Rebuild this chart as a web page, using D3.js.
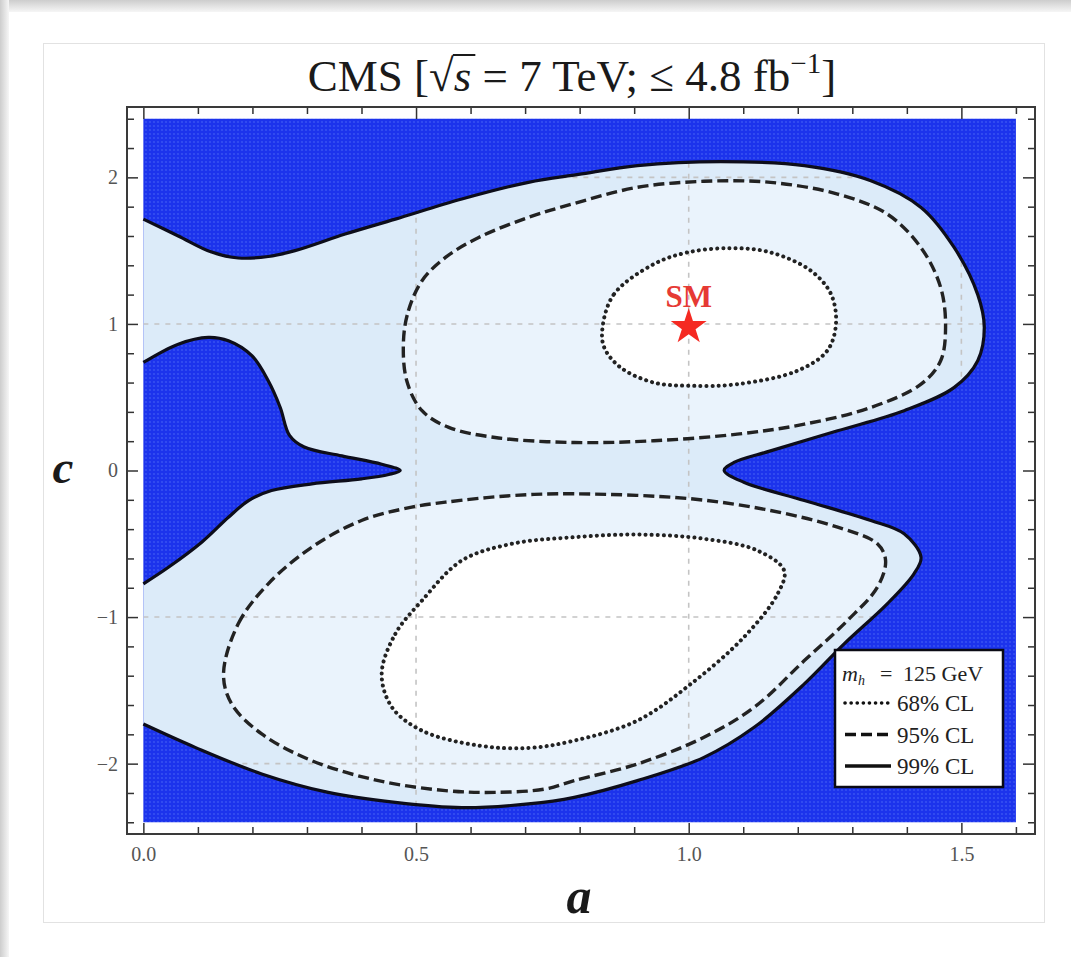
<!DOCTYPE html>
<html>
<head>
<meta charset="utf-8">
<script src="https://cdn.jsdelivr.net/npm/d3@7"></script>
<style>
  body { margin: 0; background: #fff; }
  text { font-family: "Liberation Serif", "Times New Roman", serif; }
</style>
</head>
<body>
<div id="wrapper"></div>
<script>
// Contours in the (a, c) plane
const outer99 = [
  [0, 1.715], [0.064, 1.60], [0.125, 1.49], [0.174, 1.45], [0.229, 1.46], [0.278, 1.50],
  [0.370, 1.613], [0.462, 1.715], [0.584, 1.852], [0.706, 1.966], [0.798, 2.02], [0.906, 2.08],
  [1.059, 2.107], [1.212, 2.08], [1.334, 1.977], [1.426, 1.795], [1.487, 1.52], [1.530, 1.20],
  [1.542, 0.976], [1.530, 0.749], [1.487, 0.567], [1.395, 0.408], [1.273, 0.271], [1.150, 0.134],
  [1.083, 0.055], [1.065, 0.0], [1.101, -0.08], [1.212, -0.205], [1.334, -0.341], [1.395, -0.432],
  [1.426, -0.592], [1.413, -0.705], [1.364, -0.91], [1.285, -1.183], [1.212, -1.456], [1.120, -1.752],
  [1.028, -1.957], [0.906, -2.116], [0.790, -2.23], [0.706, -2.275], [0.584, -2.30], [0.462, -2.264],
  [0.339, -2.196], [0.217, -2.07], [0.095, -1.889], [0, -1.73]
]
const tongue99 = [
  [0, -0.773], [0.046, -0.66], [0.107, -0.489], [0.156, -0.319], [0.193, -0.205], [0.235, -0.137],
  [0.309, -0.091], [0.40, -0.057], [0.450, -0.027], [0.471, 0.0], [0.437, 0.043], [0.364, 0.10],
  [0.295, 0.16], [0.268, 0.24], [0.251, 0.43], [0.229, 0.612], [0.199, 0.783], [0.156, 0.885],
  [0.119, 0.908], [0.064, 0.862], [0, 0.737]
]
const upper95 = [
  [0.477, 0.885], [0.486, 1.09], [0.511, 1.295], [0.554, 1.454], [0.615, 1.59], [0.706, 1.727],
  [0.790, 1.822], [0.906, 1.932], [1.028, 1.973], [1.150, 1.966], [1.273, 1.886], [1.364, 1.75],
  [1.426, 1.52], [1.462, 1.249], [1.471, 0.976], [1.462, 0.749], [1.426, 0.589], [1.334, 0.43],
  [1.212, 0.316], [1.089, 0.248], [0.936, 0.203], [0.790, 0.191], [0.645, 0.225], [0.560, 0.294],
  [0.511, 0.408], [0.483, 0.612]
]
const lower95 = [
  [0.147, -1.388], [0.174, -1.046], [0.229, -0.773], [0.309, -0.523], [0.40, -0.341], [0.492, -0.25],
  [0.554, -0.216], [0.676, -0.171], [0.790, -0.159], [1.004, -0.193], [1.150, -0.273], [1.273, -0.387],
  [1.346, -0.50], [1.361, -0.614], [1.346, -0.796], [1.291, -1.024], [1.212, -1.297], [1.120, -1.616],
  [1.028, -1.82], [0.906, -2.002], [0.790, -2.116], [0.737, -2.173], [0.645, -2.196], [0.554, -2.184],
  [0.431, -2.116], [0.309, -1.98], [0.217, -1.797], [0.162, -1.593]
]
const upper68 = [
  [0.842, 0.976], [0.863, 1.203], [0.936, 1.408], [0.998, 1.488], [1.077, 1.517], [1.150, 1.488],
  [1.224, 1.363], [1.261, 1.203], [1.270, 0.999], [1.254, 0.817], [1.199, 0.68], [1.089, 0.589],
  [1.004, 0.578], [0.936, 0.60], [0.875, 0.703], [0.845, 0.84]
]
const lower68 = [
  [0.437, -1.388], [0.462, -1.115], [0.511, -0.887], [0.584, -0.614], [0.676, -0.50], [0.790, -0.455],
  [0.906, -0.437], [1.028, -0.466], [1.126, -0.546], [1.175, -0.683], [1.163, -0.842], [1.101, -1.138],
  [1.004, -1.456], [0.906, -1.706], [0.790, -1.843], [0.706, -1.893], [0.615, -1.877], [0.511, -1.775],
  [0.456, -1.616]
]
const smPoint = [1, 1]

const regionA = [0, 1.6]
const regionC = [-2.4, 2.4]

const xMajor = [0, 0.5, 1.0, 1.5]
const xMinor = [0.1, 0.2, 0.3, 0.4, 0.6, 0.7, 0.8, 0.9, 1.1, 1.2, 1.3, 1.4, 1.6]
const yMajor = [-2, -1, 0, 1, 2]
const yMinor = [-2.4, -2.2, -1.8, -1.6, -1.4, -1.2, -0.8, -0.6, -0.4, -0.2,
  0.2, 0.4, 0.6, 0.8, 1.2, 1.4, 1.6, 1.8, 2.2, 2.4]
const xGrid = [0.5, 1.0, 1.5]
const yGrid = [-2, -1, 1, 2]

const legendItems = [
  { label: "68% CL", dash: "0.1,6" },
  { label: "95% CL", dash: "11,5" },
  { label: "99% CL", dash: null },
]

const dimensions = {
  width: 1071,
  height: 957,
  frame: { left: 127, right: 1035, top: 107, bottom: 834 },
}

const svg = d3.select("#wrapper")
  .append("svg")
  .attr("width", dimensions.width)
  .attr("height", dimensions.height)
  .style("display", "block")

const defs = svg.append("defs")

// page background: grey edge + card
const edge = defs.append("linearGradient").attr("id", "edgeTop").attr("x1", 0).attr("y1", 0).attr("x2", 0).attr("y2", 1)
edge.append("stop").attr("offset", 0).attr("stop-color", "#cdcdcd")
edge.append("stop").attr("offset", 1).attr("stop-color", "#f6f6f6")
const edgeL = defs.append("linearGradient").attr("id", "edgeLeft").attr("x1", 0).attr("y1", 0).attr("x2", 1).attr("y2", 0)
edgeL.append("stop").attr("offset", 0).attr("stop-color", "#cdcdcd")
edgeL.append("stop").attr("offset", 1).attr("stop-color", "#f6f6f6")

svg.append("rect").attr("width", dimensions.width).attr("height", 12).attr("fill", "url(#edgeTop)")
svg.append("rect").attr("width", 9).attr("height", dimensions.height).attr("fill", "url(#edgeLeft)")
svg.append("rect")
  .attr("x", 43.5).attr("y", 43.5).attr("width", 1001).attr("height", 879)
  .attr("fill", "#fff").attr("stroke", "#e2e2e2")

const pattern = defs.append("pattern")
  .attr("id", "blueDots")
  .attr("width", 4).attr("height", 4)
  .attr("patternUnits", "userSpaceOnUse")
pattern.append("rect").attr("width", 4).attr("height", 4).attr("fill", "#1c33ec")
pattern.append("circle").attr("cx", 2).attr("cy", 2).attr("r", 1.1).attr("fill", "#3650f2")

// scales
const xScale = d3.scaleLinear()
  .domain([-0.03, 1.635])
  .range([dimensions.frame.left, dimensions.frame.right])
const yScale = d3.scaleLinear()
  .domain([-2.48, 2.48])
  .range([dimensions.frame.bottom, dimensions.frame.top])

const openLine = d3.line()
  .x(d => xScale(d[0]))
  .y(d => yScale(d[1]))
  .curve(d3.curveCatmullRom.alpha(0.5))
const closedLine = d3.line()
  .x(d => xScale(d[0]))
  .y(d => yScale(d[1]))
  .curve(d3.curveCatmullRomClosed.alpha(0.5))

const outerPath = openLine(outer99)
const tonguePath = openLine(tongue99)
const region99 = outerPath + "L" + tonguePath.slice(1) + "Z"

defs.append("clipPath").attr("id", "clip99")
  .append("path").attr("d", region99)

// excluded region
svg.append("rect")
  .attr("x", xScale(regionA[0]))
  .attr("y", yScale(regionC[1]))
  .attr("width", xScale(regionA[1]) - xScale(regionA[0]))
  .attr("height", yScale(regionC[0]) - yScale(regionC[1]))
  .attr("fill", "url(#blueDots)")

// allowed regions
svg.append("path").attr("d", region99).attr("fill", "#dcebf9")
svg.selectAll(".fill95").data([upper95, lower95]).join("path")
  .attr("d", closedLine).attr("fill", "#eaf3fc")
svg.selectAll(".fill68").data([upper68, lower68]).join("path")
  .attr("d", closedLine).attr("fill", "#ffffff")

// grid lines
const grid = svg.append("g").attr("clip-path", "url(#clip99)")
  .attr("stroke", "#c4c4c4").attr("stroke-width", 1.6).attr("stroke-dasharray", "5,6")
grid.selectAll(".gx").data(xGrid).join("line")
  .attr("x1", d => xScale(d)).attr("x2", d => xScale(d))
  .attr("y1", yScale(regionC[1])).attr("y2", yScale(regionC[0]))
grid.selectAll(".gy").data(yGrid).join("line")
  .attr("y1", d => yScale(d)).attr("y2", d => yScale(d))
  .attr("x1", xScale(regionA[0])).attr("x2", xScale(regionA[1]))

// contours
svg.append("path").attr("d", outerPath)
  .attr("fill", "none").attr("stroke", "#0d0d1a").attr("stroke-width", 3.2)
svg.append("path").attr("d", tonguePath)
  .attr("fill", "none").attr("stroke", "#0d0d1a").attr("stroke-width", 3.2)
svg.selectAll(".c95").data([upper95, lower95]).join("path")
  .attr("d", closedLine)
  .attr("fill", "none").attr("stroke", "#222").attr("stroke-width", 3.4)
  .attr("stroke-dasharray", "11,5")
svg.selectAll(".c68").data([upper68, lower68]).join("path")
  .attr("d", closedLine)
  .attr("fill", "none").attr("stroke", "#222").attr("stroke-width", 4)
  .attr("stroke-linecap", "round")
  .attr("stroke-dasharray", "0.1,6")

// SM point
svg.append("path")
  .attr("d", d3.symbol(d3.symbolStar, 400)())
  .attr("transform", `translate(${xScale(smPoint[0])}, ${yScale(smPoint[1]) + 3})`)
  .attr("fill", "#f52a22")
svg.append("text")
  .attr("x", xScale(smPoint[0]))
  .attr("y", yScale(smPoint[1]) - 17)
  .attr("text-anchor", "middle")
  .attr("font-size", 31)
  .attr("font-weight", "bold")
  .attr("fill", "#e63a34")
  .text("SM")

// axes, ticks pointing inward
const axisStyle = g => {
  g.select(".domain").remove()
  g.selectAll(".tick line").attr("stroke", "#333").attr("stroke-width", 1.5)
  g.selectAll(".tick text").attr("fill", "#555").attr("font-size", 20)
    .attr("font-family", "Liberation Serif, serif")
}
const f = dimensions.frame
svg.append("g").attr("transform", `translate(0,${f.bottom})`)
  .call(d3.axisBottom(xScale).tickValues(xMajor).tickSize(-11).tickPadding(13).tickFormat(d3.format(".1f")))
  .call(axisStyle)
svg.append("g").attr("transform", `translate(0,${f.bottom})`)
  .call(d3.axisBottom(xScale).tickValues(xMinor).tickSize(-7).tickFormat(""))
  .call(axisStyle)
svg.append("g").attr("transform", `translate(0,${f.top})`)
  .call(d3.axisTop(xScale).tickValues(xMajor).tickSize(-12).tickFormat(""))
  .call(axisStyle)
svg.append("g").attr("transform", `translate(0,${f.top})`)
  .call(d3.axisTop(xScale).tickValues(xMinor).tickSize(-7).tickFormat(""))
  .call(axisStyle)
svg.append("g").attr("transform", `translate(${f.left},0)`)
  .call(d3.axisLeft(yScale).tickValues(yMajor).tickSize(-11).tickPadding(9).tickFormat(d3.format("d")))
  .call(axisStyle)
svg.append("g").attr("transform", `translate(${f.left},0)`)
  .call(d3.axisLeft(yScale).tickValues(yMinor).tickSize(-7).tickFormat(""))
  .call(axisStyle)
svg.append("g").attr("transform", `translate(${f.right},0)`)
  .call(d3.axisRight(yScale).tickValues(yMajor).tickSize(-12).tickFormat(""))
  .call(axisStyle)
svg.append("g").attr("transform", `translate(${f.right},0)`)
  .call(d3.axisRight(yScale).tickValues(yMinor).tickSize(-7).tickFormat(""))
  .call(axisStyle)

svg.append("rect")
  .attr("x", f.left).attr("y", f.top)
  .attr("width", f.right - f.left).attr("height", f.bottom - f.top)
  .attr("fill", "none").attr("stroke", "#3a3a3a").attr("stroke-width", 2)

// axis labels
svg.append("text")
  .attr("x", (f.left + f.right) / 2 - 2).attr("y", 913)
  .attr("text-anchor", "middle")
  .attr("font-size", 50).attr("font-style", "italic").attr("font-weight", "bold")
  .attr("fill", "#1a1a1a")
  .text("a")
svg.append("text")
  .attr("x", 63).attr("y", 483)
  .attr("text-anchor", "middle")
  .attr("font-size", 47).attr("font-style", "italic").attr("font-weight", "bold")
  .attr("fill", "#1a1a1a")
  .text("c")

// title
const title = svg.append("text")
  .attr("x", 572).attr("y", 91)
  .attr("text-anchor", "middle")
  .attr("font-size", 45)
  .attr("fill", "#1a1a1a")
title.append("tspan").text("CMS [")
title.append("tspan").text("\u221A")
title.append("tspan").attr("font-style", "italic").text("s")
title.append("tspan").text(" = 7 TeV; \u2264 4.8 fb")
title.append("tspan").attr("font-size", 29).attr("dy", -18).text("\u22121")
title.append("tspan").attr("dy", 18).text("]")
const tn = title.node()
const sqrtEnd = tn.getEndPositionOfChar(5)
const sEnd = tn.getEndPositionOfChar(6)
svg.append("line")
  .attr("x1", sqrtEnd.x - 1).attr("x2", sEnd.x + 4)
  .attr("y1", 91 - 36).attr("y2", 91 - 36)
  .attr("stroke", "#1a1a1a").attr("stroke-width", 2)

// legend
const legend = svg.append("g")
legend.append("rect")
  .attr("x", 835).attr("y", 650).attr("width", 168).attr("height", 137)
  .attr("fill", "#fff").attr("stroke", "#0a0a14").attr("stroke-width", 2.5)
const mh = legend.append("text").attr("x", 842).attr("y", 681).attr("font-size", 22).attr("fill", "#222")
mh.append("tspan").attr("font-style", "italic").text("m")
mh.append("tspan").attr("font-style", "italic").attr("font-size", 14).attr("dy", 4).text("h")
mh.append("tspan").attr("x", 880).attr("dy", -4).text("=")
mh.append("tspan").attr("x", 903).text("125 GeV")

const rows = legend.selectAll(".row").data(legendItems).join("g")
  .attr("transform", (d, i) => `translate(0, ${703 + i * 31.5})`)
rows.append("line")
  .attr("x1", 845).attr("x2", 891)
  .attr("stroke", "#111").attr("stroke-width", 3.6)
  .attr("stroke-linecap", d => d.dash === "0.1,6" ? "round" : "butt")
  .attr("stroke-dasharray", d => d.dash)
rows.append("text")
  .attr("x", 897).attr("y", 8)
  .attr("font-size", 23).attr("fill", "#222")
  .text(d => d.label)
</script>
</body>
</html>
